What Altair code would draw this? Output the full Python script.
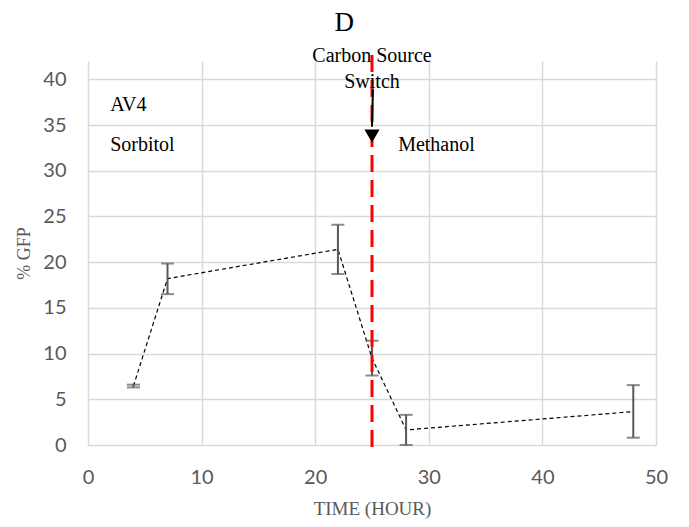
import altair as alt
import pandas as pd

# data
time_h = [4, 7, 22, 25, 28, 48]
gfp = [6.45, 18.2, 21.4, 9.5, 1.65, 3.65]
err_lo = [6.3, 16.5, 18.7, 7.6, 0.0, 0.8]
err_hi = [6.6, 19.85, 24.1, 11.4, 3.3, 6.55]

switch_time = [25]
x_ticks = [0, 10, 20, 30, 40, 50]
y_ticks = [0, 5, 10, 15, 20, 25, 30, 35, 40]

df = pd.DataFrame({"t": time_h, "g": gfp, "lo": err_lo, "hi": err_hi})
sw = pd.DataFrame({"t": switch_time})

GRAY = "#595959"
SERIF = "Liberation Serif"
SANS = "Lato"

xs = alt.Scale(domain=[0, 50], nice=False)
ys = alt.Scale(domain=[0, 42], nice=False)

xax = alt.Axis(values=x_ticks, title="TIME (HOUR)", grid=True, gridColor="#d9d9d9",
               gridWidth=1.5, domain=False, ticks=False, labelFont=SANS, labelFontSize=20,
               labelColor=GRAY, labelPadding=22, labelFlush=False, titleFont=SERIF,
               titleFontSize=19, titleFontWeight="normal", titleColor=GRAY, titlePadding=12)
yax = alt.Axis(values=y_ticks, title="% GFP", grid=True, gridColor="#d9d9d9",
               gridWidth=1.5, domain=False, ticks=False, labelFont=SANS, labelFontSize=20,
               labelColor=GRAY, labelPadding=22, labelFlush=False, titleFont=SERIF,
               titleFontSize=18, titleFontWeight="normal", titleColor=GRAY, titlePadding=9)

base = alt.Chart(df)

line = base.mark_line(color="black", strokeWidth=1.2, strokeDash=[4, 3]).encode(
    x=alt.X("t:Q", scale=xs, axis=xax), y=alt.Y("g:Q", scale=ys, axis=yax))

bars = base.mark_rule(color=GRAY, strokeWidth=2).encode(
    x="t:Q", y="lo:Q", y2="hi:Q")
cap_lo = base.mark_tick(color=GRAY, thickness=2, size=13, orient="horizontal").encode(
    x="t:Q", y="lo:Q")
cap_hi = base.mark_tick(color=GRAY, thickness=2, size=13, orient="horizontal").encode(
    x="t:Q", y="hi:Q")

red = alt.Chart(sw).mark_rule(color="#ff0000", strokeWidth=3, strokeDash=[17, 8], clip=False).encode(
    x="t:Q", y=alt.value(-6), y2=alt.value(394))

arrow_df = pd.DataFrame({"t": [25.08], "t2": [25.0], "y1": [38.9], "y2": [34.8]})
arrow = alt.Chart(arrow_df).mark_rule(color="black", strokeWidth=2).encode(
    x="t:Q", x2="t2:Q", y="y1:Q", y2="y2:Q")
head = alt.Chart(pd.DataFrame({"t": [25.0], "y": [33.8]})).mark_point(
    shape="triangle-down", filled=True, color="black", size=230, opacity=1).encode(
    x="t:Q", y="y:Q")

labels = pd.DataFrame({
    "t": [1.95, 1.95, 27.3],
    "y": [37.2, 32.8, 32.8],
    "txt": ["AV4", "Sorbitol", "Methanol"],
})
lab = alt.Chart(labels).mark_text(font=SERIF, fontSize=20, align="left", baseline="middle",
                                  color="black").encode(x="t:Q", y="y:Q", text="txt:N")

sw_lab = pd.DataFrame({"t": [25, 25], "y": [42.5, 39.7], "txt": ["Carbon Source", "Switch"]})
swl = alt.Chart(sw_lab).mark_text(font=SERIF, fontSize=20, align="center", baseline="middle",
                                  color="black", clip=False).encode(x="t:Q", y="y:Q", text="txt:N")

title_df = pd.DataFrame({"t": [22.55], "y": [46.2], "txt": ["D"]})
ttl = alt.Chart(title_df).mark_text(font=SERIF, fontSize=27, align="center", baseline="middle",
                                    color="black", clip=False).encode(x="t:Q", y="y:Q", text="txt:N")

chart = alt.layer(line, bars, cap_lo, cap_hi, red, arrow, head, swl, lab, ttl).properties(
    width=568, height=384,
    autosize=alt.AutoSizeParams(type="none"),
    padding={"left": 88, "top": 61, "right": 33, "bottom": 82},
).configure_view(stroke=None)

chart.save("out.html", embed_options={"renderer": "svg", "actions": False})
